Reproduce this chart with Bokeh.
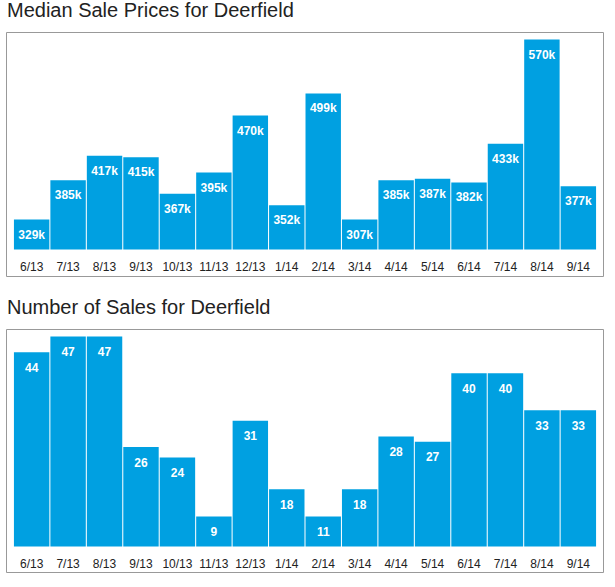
import numpy as np
from bokeh.plotting import figure
from bokeh.layouts import column
from bokeh.models import ColumnDataSource, FactorRange, Range1d, Div
from bokeh.core.properties import value
from bokeh.embed import file_html
from bokeh.resources import INLINE

# Monthly figures for Deerfield
months = ["6/13", "7/13", "8/13", "9/13", "10/13", "11/13", "12/13", "1/14",
          "2/14", "3/14", "4/14", "5/14", "6/14", "7/14", "8/14", "9/14"]
median_price_k = [329, 385, 417, 415, 367, 395, 470, 352,
                  499, 307, 385, 387, 382, 433, 570, 377]
sales_count = [44, 47, 47, 26, 24, 9, 31, 18,
               11, 18, 28, 27, 40, 40, 33, 33]

BAR_COLOR = "#00a0e1"
FONT = "Liberation Sans"
TEXT_COLOR = "#222222"

BAR_PX = 210      # pixel height of the tallest bar
MIN_BAR_PX = 30   # shortest bar still has room for its label
TOP_GAP_PX = 7    # space between the tallest bar and the box


def heading(text):
    return Div(text=text, width=600, height=31, margin=0,
               styles={"font-family": FONT, "font-size": "20px",
                       "line-height": "20px", "color": TEXT_COLOR,
                       "text-indent": "7px", "white-space": "nowrap"})


def bar_panel(vals, label_fmt, base_gap_px, bottom_px):
    vals = np.asarray(vals, dtype=float)
    lo, hi = vals.min(), vals.max()
    base = lo - 0.05 * (hi - lo)          # bars grow up from just below the minimum
    per_px = (hi - base) / BAR_PX
    tops = np.maximum(vals, base + MIN_BAR_PX * per_px)

    frame_h = base_gap_px + BAR_PX + TOP_GAP_PX
    y_range = Range1d(base - base_gap_px * per_px, hi + TOP_GAP_PX * per_px)
    x_range = FactorRange(factors=months, range_padding=0.19,
                          range_padding_units="absolute")

    p = figure(width=615, height=1 + frame_h + bottom_px,
               x_range=x_range, y_range=y_range,
               output_backend="svg", toolbar_location=None,
               min_border_left=6, min_border_right=12,
               min_border_top=1, min_border_bottom=bottom_px)

    p.axis.visible = False
    p.grid.visible = False
    p.background_fill_color = "white"
    p.border_fill_color = "white"
    p.outline_line_color = "#999999"
    p.outline_line_width = 1

    src = ColumnDataSource(dict(
        month=months,
        top=tops,
        base=[base] * len(months),
        label=[label_fmt(v) for v in vals],
    ))

    p.vbar(x="month", top="top", bottom="base", width=0.972, source=src,
           fill_color=BAR_COLOR, line_color=None)

    # value inside the top of each bar
    p.text(x="month", y="top", text="label", source=src,
           text_font=value(FONT), text_font_size="12px", text_font_style="bold",
           text_color="white", text_align="center",
           text_baseline="alphabetic", y_offset=15)

    # month labels under the bars
    p.text(x="month", y="base", text="month", source=src,
           text_font=value(FONT), text_font_size="12px",
           text_color=TEXT_COLOR, text_align="center",
           text_baseline="alphabetic", y_offset=17)
    return p


price_chart = bar_panel(median_price_k, lambda v: f"{int(v)}k",
                        base_gap_px=27, bottom_px=21)
sales_chart = bar_panel(sales_count, lambda v: f"{int(v)}",
                        base_gap_px=26, bottom_px=15)

layout = column(heading("Median Sale Prices for Deerfield"), price_chart,
                heading("Number of Sales for Deerfield"), sales_chart,
                spacing=0)

with open("out.html", "w") as f:
    f.write(file_html(layout, INLINE))
